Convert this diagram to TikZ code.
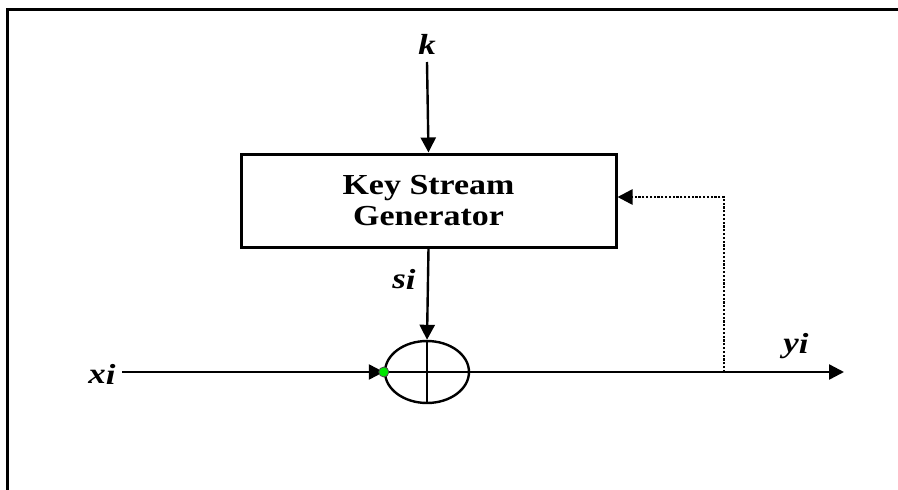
\documentclass[tikz,border=0pt]{standalone}
\usepackage{fontspec}
\setmainfont{Liberation Serif}
\usetikzlibrary{arrows.meta,shapes.geometric}
\tikzset{
  tip/.style={-{Triangle[length=15pt,width=15pt]}},
  conn/.style={line width=2.4pt, tip},
  plain/.style={line width=2.4pt},
  lbl/.style={font=\fontsize{29}{29}\selectfont\bfseries\itshape, inner sep=0pt},
  kbox/.style={draw, line width=3pt, minimum width=375pt, minimum height=93pt, align=center,
    font=\fontsize{29}{33}\selectfont\bfseries, inner sep=0pt},
  xorell/.style={draw, ellipse, line width=2.4pt, minimum width=84pt, minimum height=62pt, inner sep=0pt}
}
\begin{document}
\begin{tikzpicture}[x=1pt,y=-1pt]
\useasboundingbox (0,0) rectangle (898,490);
\draw[line width=3pt] (7.5,495) -- (7.5,9.5) -- (905,9.5);
% nodes
\node[kbox] (gen) at (428.5,200.5) {\scalebox{1.17}[1]{Key Stream}\\[-2pt]\scalebox{1.17}[1]{Generator}};
\node[xorell] (xor) at (427,372) {};
\node[lbl] (k) at (427,44) {\scalebox{1.2}[1]{k}};
\node[lbl] (s) at (404,279) {\scalebox{1.2}[1]{s\raisebox{-1pt}{i}}};
\node[lbl] (x) at (102,374) {\scalebox{1.2}[1]{x\raisebox{-1pt}{i}}};
\node[lbl] (y) at (796,346) {\scalebox{1.2}[1]{y\raisebox{-1pt}{i}}};
\coordinate (kstart) at (427,62);
\coordinate (xstart) at (122,372);
\coordinate (yend) at (844,372);
\coordinate (tap) at (724,372);
\coordinate (corner) at (724,197);
% cross in xor
\draw[plain] (xor.north) -- (xor.south);
\draw[plain] (xor.west) -- (xor.east);
% connectors
\draw[conn] (kstart) -- (gen.north);
\draw[conn] (gen.south) -- (xor.north);
\draw[conn] (xstart) -- (xor.west);
\draw[conn] (xor.east) -- (yend);
\draw[line width=2.6pt, dash pattern=on 2.2pt off 1.6pt, tip] (tap) -- (corner) -- (gen.east |- corner);
\filldraw[fill={rgb,255:red,0;green,230;blue,0}, draw=black!70, line width=0.8pt] (xor.west) circle (5pt);
\end{tikzpicture}
\end{document}
